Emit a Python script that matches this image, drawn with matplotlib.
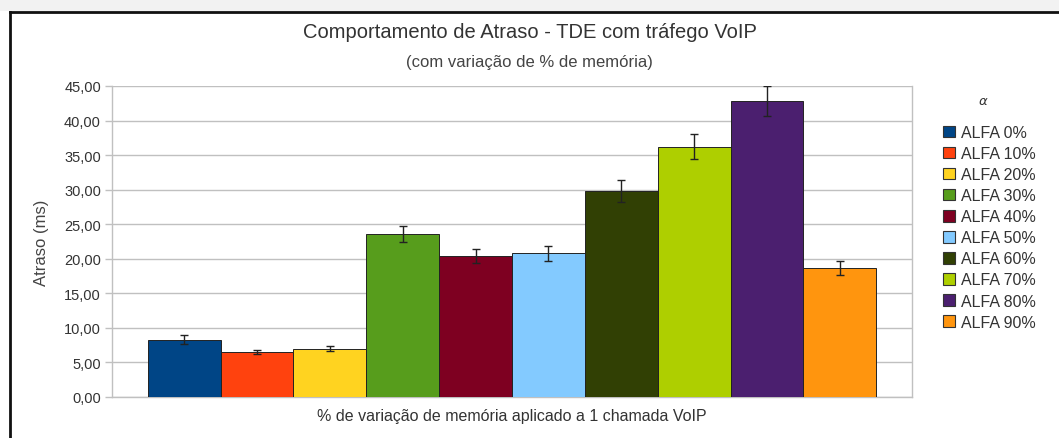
import matplotlib.pyplot as plt
from matplotlib.lines import Line2D
from matplotlib.patches import Patch
import numpy as np

plt.rcParams['font.family'] = ['Liberation Sans', 'DejaVu Sans']

# data
labels = ['ALFA 0%', 'ALFA 10%', 'ALFA 20%', 'ALFA 30%', 'ALFA 40%',
          'ALFA 50%', 'ALFA 60%', 'ALFA 70%', 'ALFA 80%', 'ALFA 90%']
atraso = [8.3, 6.5, 7.0, 23.6, 20.4, 20.8, 29.8, 36.2, 42.8, 18.7]
erro = [0.6, 0.3, 0.35, 1.1, 1.0, 1.1, 1.6, 1.8, 2.2, 1.0]
cores = ['#004586', '#ff420e', '#ffd320', '#579d1c', '#7e0021',
         '#83caff', '#314004', '#aecf00', '#4b1f6f', '#ff950e']
yticks = np.arange(0, 46, 5)

fig = plt.figure(figsize=(10.59, 4.39), dpi=100)
ax = fig.add_axes([112/1059, 1-398/439, 800/1059, 311/439])

x = np.arange(len(atraso))
ax.bar(x, atraso, width=1.0, color=cores, edgecolor='#222222', linewidth=0.7, zorder=3)
ax.errorbar(x, atraso, yerr=erro, fmt='none', ecolor='#222222', elinewidth=1,
            capsize=3, capthick=1, zorder=4)

ax.set_xlim(-0.5-0.49, 9.5+0.49)
ax.set_ylim(0, 45)
ax.set_yticks(yticks)
ax.set_yticklabels([('%.2f' % v).replace('.', ',') for v in yticks])
ax.set_xticks([])
ax.grid(axis='y', color='#c0c0c0', linewidth=1, zorder=0)
ax.tick_params(axis='y', colors='#c0c0c0', labelcolor='#333333', labelsize=10.5,
               length=5, width=1, pad=3)
ax.spines['top'].set_visible(False)
for s in ['left', 'right', 'bottom']:
    ax.spines[s].set_color('#c0c0c0')
    ax.spines[s].set_linewidth(1)

ax.set_ylabel('Atraso (ms)', fontsize=12, color='#444444', labelpad=11)
ax.set_xlabel('% de variação de memória aplicado a 1 chamada VoIP', fontsize=11.5,
              color='#333333', labelpad=8)

fig.text(0.5, 1-33/439, 'Comportamento de Atraso - TDE com tráfego VoIP',
         ha='center', va='center', fontsize=14.5, color='#333333')
fig.text(0.5, 1-62/439, '(com variação de % de memória)',
         ha='center', va='center', fontsize=12, color='#444444')

handles = [Patch(facecolor=c, edgecolor='#333333', linewidth=0.8) for c in cores]
leg = fig.legend(handles, labels, loc='upper left', bbox_to_anchor=(943/1059, 1-126/439),
                 frameon=False, fontsize=11.5, handlelength=0.75, handleheight=0.75,
                 handletextpad=0.35, labelspacing=0.38, borderaxespad=0, borderpad=0)
for t in leg.get_texts():
    t.set_color('#333333')
fig.text(983/1059, 1-102/439, r'$\alpha$', ha='center', va='center',
         fontsize=9.5, color='#333333')

# spreadsheet frame around the chart
fig.patches.append(plt.Rectangle((0, 1-12/439), 1, 12/439, transform=fig.transFigure,
                                 facecolor='#f2f2f2', edgecolor='none', zorder=0))
fig.lines.append(Line2D([10/1059, 1], [1-13/439, 1-13/439], transform=fig.transFigure,
                        color='#111111', linewidth=2))
fig.lines.append(Line2D([10/1059, 10/1059], [0, 1-13/439], transform=fig.transFigure,
                        color='#111111', linewidth=2))

fig.savefig('out.png', dpi=100)
